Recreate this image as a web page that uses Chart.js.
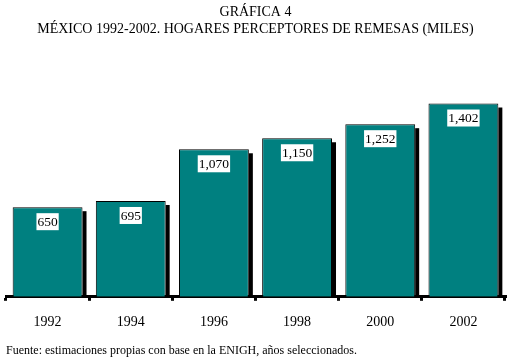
<!DOCTYPE html>
<html>
<head>
<meta charset="utf-8">
<script src="https://cdn.jsdelivr.net/npm/chart.js@4"></script>
<style>
  body { margin: 0; background: #fff; }
  #wrap { width: 515px; height: 360px; }
</style>
</head>
<body>
<div id="wrap"><canvas id="grafica"></canvas></div>
<script>
// datos de la grafica
const anios = ['1992', '1994', '1996', '1998', '2000', '2002'];
const hogares = [650, 695, 1070, 1150, 1252, 1402];
const titulo = ['GRÁFICA 4', 'MÉXICO 1992-2002. HOGARES PERCEPTORES DE REMESAS (MILES)'];
const fuente = 'Fuente: estimaciones propias con base en la ENIGH, años seleccionados.';

const letra = "'Liberation Serif', 'Times New Roman', serif";

// sombra negra a la derecha de cada barra (sale de las barras ya dibujadas)
const sombra = {
  id: 'sombra',
  beforeDatasetsDraw(chart) {
    const ctx = chart.ctx;
    const meta = chart.getDatasetMeta(0);
    ctx.save();
    ctx.fillStyle = '#000';
    meta.data.forEach(barra => {
      let der = barra.x + barra.width / 2;
      ctx.fillRect(der, barra.y + 4, 4, barra.base - barra.y - 4);
    });
    ctx.restore();
  }
};

// etiquetas blancas con el valor
const etiquetas = {
  id: 'etiquetas',
  afterDatasetsDraw(chart) {
    const ctx = chart.ctx;
    const meta = chart.getDatasetMeta(0);
    ctx.save();
    ctx.font = '13.5px ' + letra;
    ctx.textAlign = 'center';
    ctx.textBaseline = 'middle';
    meta.data.forEach((barra, i) => {
      let txt = hogares[i].toLocaleString('en-US');
      let w = ctx.measureText(txt).width + 2;
      let y = barra.y + 14;
      ctx.fillStyle = '#fff';
      ctx.fillRect(barra.x - w / 2, y - 8, w, 17);
      ctx.fillStyle = '#000';
      ctx.fillText(txt, barra.x, y + 1);
    });
    ctx.restore();
  }
};

const config = {
  type: 'bar',
  data: {
    labels: anios,
    datasets: [{
      data: hogares,
      backgroundColor: '#008080',
      borderColor: '#000',
      borderWidth: 1,
      borderSkipped: 'bottom',
      barPercentage: 0.84,
      categoryPercentage: 1
    }]
  },
  options: {
    responsive: true,
    maintainAspectRatio: false,
    animation: false,
    layout: { padding: { left: 6, right: 10, top: 4, bottom: 2 } },
    plugins: {
      legend: { display: false },
      tooltip: { enabled: false },
      title: {
        display: true,
        text: titulo,
        color: '#000',
        font: { family: letra, size: 14, weight: 'normal', lineHeight: 1.2 },
        padding: { top: 0, bottom: 20 }
      },
      subtitle: {
        display: true,
        position: 'bottom',
        align: 'start',
        text: fuente,
        color: '#000',
        font: { family: letra, size: 12, weight: 'normal' },
        padding: { top: 0, bottom: 0 }
      }
    },
    scales: {
      x: {
        grid: {
          offset: true,
          drawOnChartArea: false,
          drawTicks: true,
          tickLength: 4,
          lineWidth: 3,
          color: '#000'
        },
        border: { display: true, color: '#000', width: 3 },
        ticks: {
          color: '#000',
          padding: 13,
          font: { family: letra, size: 14 }
        }
      },
      y: {
        display: false,
        min: 0,
        max: 1735
      }
    }
  },
  plugins: [sombra, etiquetas]
};

new Chart(document.getElementById('grafica'), config);
</script>
</body>
</html>
